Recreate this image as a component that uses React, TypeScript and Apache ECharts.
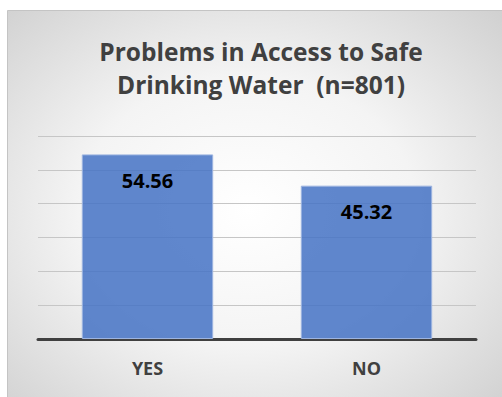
import React, { useEffect, useRef } from "react";
import * as echarts from "echarts";

const categories = ["YES", "NO"];
const values = [54.56, 45.32];
const titleLines = ["Problems in Access to Safe", "Drinking Water  (n=801)"];

export default function App() {
  const ref = useRef<HTMLDivElement>(null);
  useEffect(() => {
    document.body.style.margin = "0";
    const chart = echarts.init(ref.current!, null, { renderer: "svg" });
    chart.setOption({
      animation: false,
      graphic: [
        {
          type: "rect",
          z: -10,
          silent: true,
          shape: { x: 7.5, y: 10.5, width: 500, height: 400 },
          style: {
            fill: new echarts.graphic.RadialGradient(0.48, 0.5, 0.75, [
              { offset: 0, color: "#ffffff" },
              { offset: 0.45, color: "#f4f4f4" },
              { offset: 1, color: "#cdcdcd" },
            ]),
            stroke: "#c4c4c4",
            lineWidth: 1,
          },
        },
      ],
      title: {
        text: titleLines.join("\n"),
        left: 256,
        textAlign: "center",
        top: 30,
        textStyle: {
          fontFamily: "Open Sans",
          fontWeight: "bold",
          fontSize: 24.5,
          lineHeight: 33,
          color: "#404040",
        },
      },
      grid: { left: 38, right: 26, top: 136, bottom: 58 },
      xAxis: {
        type: "category",
        data: categories,
        axisLine: { lineStyle: { color: "#404040", width: 3 } },
        axisTick: { show: false },
        axisLabel: {
          margin: 20,
          fontFamily: "Open Sans",
          fontWeight: "bold",
          fontSize: 18,
          color: "#404040",
        },
      },
      yAxis: {
        type: "value",
        min: 0,
        max: 60,
        interval: 10,
        axisLabel: { show: false },
        axisLine: { show: false },
        axisTick: { show: false },
        splitLine: { lineStyle: { color: "#c6c6c6", width: 1 } },
      },
      series: [
        {
          type: "bar",
          data: values,
          barCategoryGap: "40%",
          itemStyle: {
            color: "rgba(68,114,196,0.85)",
            borderColor: "#9db4e0",
            borderWidth: 1,
          },
          label: {
            show: true,
            position: "insideTop",
            distance: 16,
            fontFamily: "Open Sans",
            fontWeight: "bold",
            fontSize: 20,
            color: "#000000",
            formatter: (p: any) => p.value.toFixed(2),
          },
        },
      ],
    });
    return () => chart.dispose();
  }, []);
  return <div ref={ref} style={{ width: 502, height: 397 }} />;
}
